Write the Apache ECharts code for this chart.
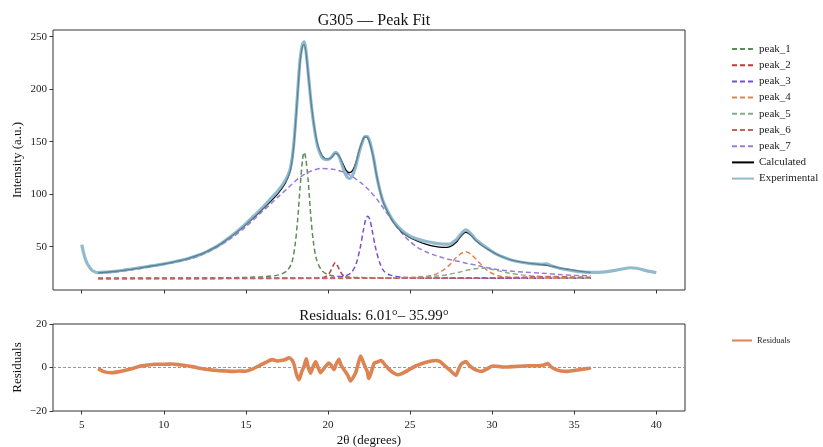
<!DOCTYPE html>
<html><head><meta charset="utf-8">
<script src="https://cdn.jsdelivr.net/npm/echarts@6/dist/echarts.min.js"></script>
<style>html,body{margin:0;padding:0;background:#fff}#c{width:823px;height:447px}</style>
</head><body><div id="c"></div>
<script>
// ---- tick labels ----
const xTicks = [5, 10, 15, 20, 25, 30, 35, 40];
const yTicks = [50, 100, 150, 200, 250];
const resTicks = [-20, 0, 20];

// ---- experimental pattern ----
const expX = [5.0, 5.15, 5.3, 5.45, 5.6, 5.8, 5.95, 6.5, 7, 7.5, 8, 8.5, 9, 9.5, 10, 10.5, 11, 11.5, 12, 12.5, 13, 13.5, 14, 14.5, 15, 15.5, 16, 16.5, 17, 17.4, 17.7, 17.9, 18.1, 18.3, 18.45, 18.55, 18.65, 18.8, 19.0, 19.2, 19.4, 19.7, 20.0, 20.25, 20.45, 20.65, 20.9, 21.1, 21.3, 21.5, 21.7, 21.9, 22.1, 22.25, 22.4, 22.55, 22.75, 23.0, 23.3, 23.6, 24.0, 24.5, 25, 25.5, 26, 26.5, 27, 27.4, 27.8, 28.1, 28.4, 28.7, 29.0, 29.4, 29.8, 30.2, 30.7, 31.2, 31.8, 32.4, 33.0, 33.3, 33.6, 34.0, 34.5, 35, 35.5, 36, 36.5, 37, 37.5, 38, 38.4, 38.8, 39.2, 39.6, 40.0];
const expY = [52, 42, 35, 31, 28, 26, 25.3, 25.8, 26.6, 27.6, 28.7, 29.9, 31.1, 32.4, 33.7, 35.2, 36.8, 38.8, 41.3, 44.4, 48.3, 53, 58.8, 65, 72, 79.5, 87, 95.5, 104, 113, 124, 145, 185, 228, 243, 245, 238, 215, 183, 160, 144, 134, 133, 136, 140, 137, 126, 118, 115, 118, 127, 140, 150, 155, 155, 150, 137, 115, 96, 85, 74, 65.5, 60, 57, 55, 53.5, 52.5, 52.5, 56.5, 62, 66, 62.5, 57, 52, 47.5, 43.5, 40, 37.2, 35.2, 34, 33.3, 33.6, 31.8, 30, 28.3, 27, 26, 25.5, 25.6, 26.3, 27.5, 29, 30, 29.5, 28, 26.5, 25.3];

// ---- calculated fit ----
const calcX = [6.0, 6.5, 7, 7.5, 8, 8.5, 9, 9.5, 10, 10.5, 11, 11.5, 12, 12.5, 13, 13.5, 14, 14.5, 15, 15.5, 16, 16.5, 17, 17.4, 17.7, 17.9, 18.1, 18.3, 18.45, 18.55, 18.65, 18.8, 19.0, 19.2, 19.4, 19.7, 20.0, 20.25, 20.45, 20.65, 20.9, 21.1, 21.3, 21.5, 21.7, 21.9, 22.1, 22.25, 22.4, 22.55, 22.75, 23.0, 23.3, 23.6, 24.0, 24.5, 25, 25.5, 26, 26.5, 27, 27.4, 27.8, 28.1, 28.4, 28.7, 29.0, 29.4, 29.8, 30.2, 30.7, 31.2, 31.8, 32.4, 33.0, 33.3, 33.6, 34.0, 34.5, 35, 35.5, 36];
const calcY = [25.2, 25.7, 26.4, 27.4, 28.5, 29.7, 31, 32.3, 33.7, 35.2, 36.9, 39, 41.5, 44.6, 48.4, 53, 58.5, 64.5, 71, 78, 85.5, 93, 101.5, 110.5, 122, 143, 183, 226, 241, 242.5, 236, 214, 184, 161, 146, 135.5, 133.5, 135.5, 139, 137, 129.5, 123, 120.5, 122.5, 130, 142, 151, 154.5, 154, 148.5, 136, 115, 95.5, 84, 73, 64, 58.5, 55, 52.3, 50.3, 49.3, 49.8, 54, 60, 64, 61, 56, 51, 47, 43.5, 40, 37.3, 35.3, 34, 33, 32.5, 31.5, 30.2, 28.8, 27.4, 26.3, 25.5];

// ---- individual peaks ----
const peak1X = [6, 10, 14, 16, 17, 17.5, 17.8, 18.0, 18.15, 18.3, 18.45, 18.55, 18.65, 18.8, 18.95, 19.1, 19.3, 19.6, 20, 21, 23, 26, 30, 36];
const peak1Y = [19.8, 20, 20.5, 21.4, 23.2, 27, 35, 52, 75, 106, 133, 140, 134, 112, 80, 56, 38, 28, 23.5, 21.2, 20.4, 20.1, 20, 19.9];
const peak2X = [6, 15, 19, 19.7, 20.0, 20.2, 20.35, 20.45, 20.55, 20.7, 20.9, 21.2, 22, 26, 36];
const peak2Y = [19.8, 19.9, 20.1, 20.8, 23, 28, 33, 35, 33, 28, 23, 20.9, 20.2, 20, 19.9];
const peak3X = [6, 18, 20, 21, 21.4, 21.7, 21.95, 22.15, 22.3, 22.42, 22.55, 22.7, 22.9, 23.15, 23.4, 23.8, 24.5, 26, 30, 36];
const peak3Y = [19.8, 20, 20.5, 22, 25, 33, 48, 65, 76, 79, 76, 65, 49, 35, 27, 23, 21, 20.3, 20, 19.9];
const peak4X = [6, 20, 24, 25.5, 26.4, 27.0, 27.4, 27.8, 28.1, 28.4, 28.7, 29.0, 29.3, 29.7, 30.1, 30.5, 31.2, 32.5, 36];
const peak4Y = [19.8, 19.9, 20.4, 21.2, 23, 27.5, 32.5, 39.5, 43.5, 45.3, 43, 38.5, 33.5, 27.5, 23.8, 22, 20.8, 20.2, 19.9];
const peak5X = [6, 20, 24, 25.5, 26.5, 27.3, 28, 28.6, 29.1, 29.4, 29.8, 30.4, 31, 31.8, 32.5, 33.5, 34.5, 36];
const peak5Y = [19.7, 19.8, 20.2, 20.8, 21.8, 23.5, 25.8, 28, 29.3, 29.6, 29.1, 27, 25, 23.2, 22.1, 21.2, 20.6, 20.1];
const peak6X = [6, 25, 29, 31, 32.3, 33, 33.5, 34, 34.7, 35.4, 36];
const peak6Y = [19.9, 20, 20.3, 20.7, 21.2, 21.5, 21.6, 21.5, 21.3, 21.1, 21];
const peak7X = [6, 7, 8, 9, 10, 11, 12, 13, 14, 15, 16, 16.5, 17, 17.6, 18.2, 18.8, 19.6, 20.4, 21.2, 22, 22.5, 23, 23.5, 24, 24.5, 25, 25.5, 26, 26.5, 27, 27.5, 28, 28.5, 29, 29.5, 30, 30.5, 31, 32, 33, 34, 35, 36];
const peak7Y = [25, 26, 27.9, 30.4, 33.2, 36.3, 40.4, 47.5, 57, 69, 83.5, 90.5, 98, 106.5, 115, 121, 124.5, 123.5, 119.5, 111, 104, 95, 84, 73, 63, 55, 49, 45, 42, 39.5, 37.5, 36, 34, 32.5, 30.6, 29.2, 27.9, 27, 25.8, 24.8, 23.6, 22.8, 22.4];

// ---- residuals ----
const resX = [6.0, 6.3, 6.76, 7.2, 7.67, 8.1, 8.48, 9.0, 9.5, 10.1, 10.5, 10.92, 11.3, 11.73, 12.1, 12.55, 13.0, 13.36, 13.8, 14.17, 14.6, 14.98, 15.3, 15.59, 15.9, 16.2, 16.61, 16.9, 17.22, 17.45, 17.62, 17.8, 17.93, 18.1, 18.24, 18.4, 18.54, 18.68, 18.8, 18.94, 19.1, 19.25, 19.4, 19.55, 19.8, 20.06, 20.2, 20.37, 20.5, 20.67, 20.8, 20.98, 21.2, 21.38, 21.5, 21.68, 21.85, 21.99, 22.2, 22.4, 22.48, 22.6, 22.82, 23.0, 23.23, 23.5, 23.74, 24.0, 24.24, 24.5, 24.76, 25.05, 25.37, 25.7, 25.98, 26.3, 26.58, 26.8, 26.99, 27.2, 27.4, 27.6, 27.8, 27.95, 28.11, 28.41, 28.6, 28.82, 29.05, 29.33, 29.7, 30.03, 30.3, 30.64, 31.0, 31.46, 31.9, 32.27, 32.6, 32.98, 33.2, 33.39, 33.6, 33.9, 34.2, 34.51, 34.9, 35.32, 35.6, 35.93, 36.0];
const resY = [-0.5, -1.8, -2.4, -2.0, -1.3, -0.5, 0.5, 1.1, 1.5, 1.5, 1.6, 1.3, 0.9, 0.4, -0.2, -0.8, -1.2, -1.5, -1.6, -1.8, -1.6, -1.7, -1.0, 0.0, 1.2, 2.3, 3.6, 3.0, 3.3, 3.8, 4.5, 3.5, 1.5, -3.5, -5.6, -2, 0.5, 4.0, 0, -2.6, 0.5, 2.6, 0, -2.4, 0, 2, 1, -1, 1.5, 3.8, 1, -1, -3.5, -6.2, -5, -2.6, 2, 5.3, 1.5, -2, -5.0, -3, 2, 2.5, 3.2, 1, -1, -2.5, -3.3, -2.8, -1.8, -0.5, 0.8, 1.7, 2.4, 3, 3.2, 2.8, 1.7, 0.3, -1, -2.5, -3.6, -1, 1.5, 2.7, 1, -0.3, -1.2, -1.8, -0.6, 0.7, 0.6, 0.2, 0.3, 0.5, 0.7, 0.8, 0.8, 0.9, 1.3, 1.8, 0.3, -1, -1.6, -1.8, -1.5, -1, -0.7, -0.3, 0];

const peakNames = ['peak_1', 'peak_2', 'peak_3', 'peak_4', 'peak_5', 'peak_6', 'peak_7'];
const peakColors = ['#5b8c5a', '#c4373a', '#7b4fd4', '#e08550', '#88ad86', '#c95f5f', '#9a7ed6'];
const peakXs = [peak1X, peak2X, peak3X, peak4X, peak5X, peak6X, peak7X];
const peakYs = [peak1Y, peak2Y, peak3Y, peak4Y, peak5Y, peak6Y, peak7Y];

function pairs(xs, ys) { return xs.map((x, i) => [x, ys[i]]); }
const FONT = 'Liberation Serif';
const minus = v => (v < 0 ? '\u2212' + Math.abs(v) : String(v));

const series = [];
peakNames.forEach((n, i) => {
  series.push({
    name: n, type: 'line', xAxisIndex: 0, yAxisIndex: 0, symbol: 'none', smooth: 0.3,
    data: pairs(peakXs[i], peakYs[i]), z: 2,
    lineStyle: { color: peakColors[i], width: 1.5, type: [5, 3] },
    itemStyle: { color: peakColors[i] }
  });
});
series.push({
  name: 'Calculated', type: 'line', xAxisIndex: 0, yAxisIndex: 0, symbol: 'none', smooth: 0.3,
  data: pairs(calcX, calcY), z: 3,
  lineStyle: { color: '#000', width: 1.3 }, itemStyle: { color: '#000' }
});
series.push({
  name: 'Experimental', type: 'line', xAxisIndex: 0, yAxisIndex: 0, symbol: 'none', smooth: 0.3,
  data: pairs(expX, expY), z: 4,
  lineStyle: { color: '#72a6c0', width: 3.2, opacity: 0.78 }, itemStyle: { color: '#78a8c2' }
});
series.push({
  name: 'Residuals', type: 'line', xAxisIndex: 1, yAxisIndex: 1, symbol: 'none', smooth: 0.2,
  data: pairs(resX, resY), z: 4,
  lineStyle: { color: '#dd8452', width: 3.6 }, itemStyle: { color: '#dd8452' },
  markLine: {
    silent: true, symbol: 'none', label: { show: false }, animation: false,
    lineStyle: { color: '#999', type: [3, 2], width: 1 },
    data: [{ yAxis: 0 }]
  }
});

const chart = echarts.init(document.getElementById('c'));
chart.setOption({
  animation: false,
  backgroundColor: '#fff',
  textStyle: { fontFamily: FONT },
  title: [
    { text: 'G305 \u2014 Peak Fit', left: 369, top: 8, textAlign: 'center',
      textStyle: { fontFamily: FONT, fontSize: 16, fontWeight: 'normal', color: '#111' } },
    { text: 'Residuals: 6.01\u00b0\u2013 35.99\u00b0', left: 369, top: 304, textAlign: 'center',
      textStyle: { fontFamily: FONT, fontSize: 15, fontWeight: 'normal', color: '#111' } }
  ],
  legend: [
    { data: peakNames.concat(['Calculated', 'Experimental']), orient: 'vertical', left: 726, top: 38,
      itemWidth: 22, itemHeight: 12, itemGap: 4.2,
      itemStyle: { opacity: 0 },
      textStyle: { fontFamily: FONT, fontSize: 11, color: '#222', lineHeight: 12 } },
    { data: ['Residuals'], orient: 'vertical', left: 726, top: 331,
      itemWidth: 20, itemHeight: 10, itemGap: 2,
      itemStyle: { opacity: 0 },
      textStyle: { fontFamily: FONT, fontSize: 8.5, color: '#222' } }
  ],
  grid: [
    { left: 53, top: 30, width: 632, height: 260, show: true, borderColor: '#333', borderWidth: 1,
      backgroundColor: 'transparent', containLabel: false, outerBoundsMode: 'none' },
    { left: 53, top: 324, width: 632, height: 87, show: true, borderColor: '#333', borderWidth: 1,
      backgroundColor: 'transparent', containLabel: false, outerBoundsMode: 'none' }
  ],
  xAxis: [
    { type: 'value', gridIndex: 0, min: 3.25, max: 41.75,
      axisLine: { show: false, onZero: false }, splitLine: { show: false },
      axisTick: { show: true, length: 3.5, customValues: xTicks, lineStyle: { color: '#333' } },
      axisLabel: { show: false, customValues: xTicks } },
    { type: 'value', gridIndex: 1, min: 3.25, max: 41.75,
      axisLine: { show: false, onZero: false }, splitLine: { show: false },
      axisTick: { show: true, length: 3.5, customValues: xTicks, lineStyle: { color: '#333' } },
      axisLabel: { color: '#222', fontFamily: FONT, fontSize: 11, margin: 9, customValues: xTicks },
      name: '2\u03b8 (degrees)', nameLocation: 'middle', nameGap: 23, nameMoveOverlap: false,
      nameTextStyle: { fontFamily: FONT, fontSize: 13, color: '#111' } }
  ],
  yAxis: [
    { type: 'value', gridIndex: 0, min: 8.8, max: 256.4,
      axisLine: { show: false, onZero: false }, splitLine: { show: false },
      axisTick: { show: true, length: 3.5, customValues: yTicks, lineStyle: { color: '#333' } },
      axisLabel: { color: '#222', fontFamily: FONT, fontSize: 11, margin: 6, customValues: yTicks },
      name: 'Intensity (a.u.)', nameLocation: 'middle', nameGap: 29, nameMoveOverlap: false,
      nameTextStyle: { fontFamily: FONT, fontSize: 13, color: '#111' } },
    { type: 'value', gridIndex: 1, min: -20, max: 20, interval: 20,
      axisLine: { show: false, onZero: false }, splitLine: { show: false },
      axisTick: { show: true, length: 3.5, lineStyle: { color: '#333' } },
      axisLabel: { color: '#222', fontFamily: FONT, fontSize: 11, margin: 6, formatter: minus },
      name: 'Residuals', nameLocation: 'middle', nameGap: 29, nameMoveOverlap: false,
      nameTextStyle: { fontFamily: FONT, fontSize: 13, color: '#111' } }
  ],
  series: series
});
</script></body></html>
